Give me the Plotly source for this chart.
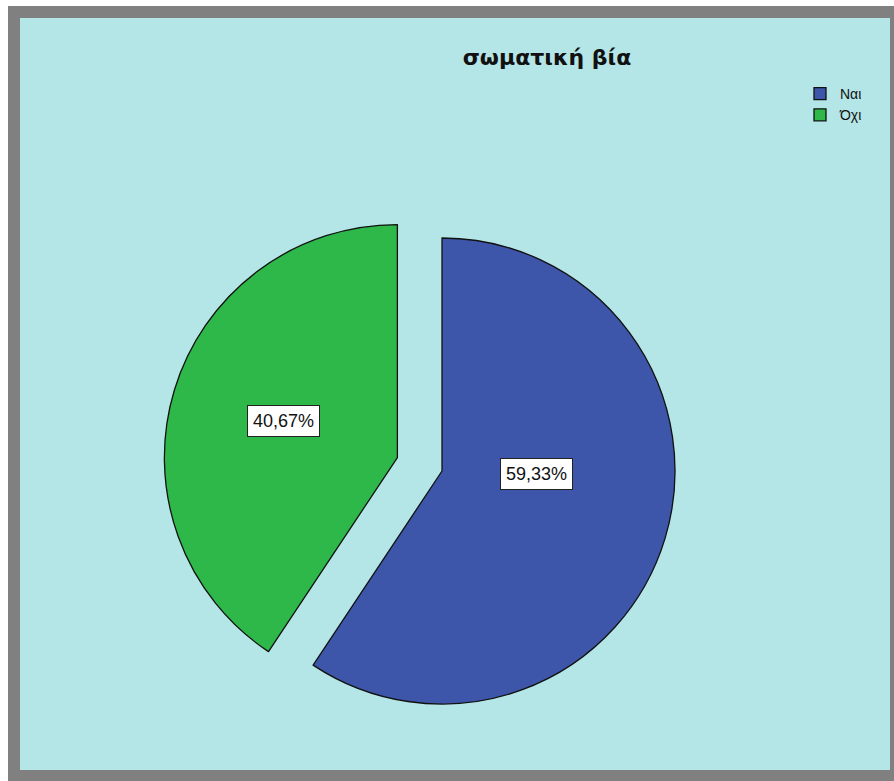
import plotly.graph_objects as go

# ---- data ----
labels = ["Ναι", "Όχι"]
values = [59.33, 40.67]
pulls = [0.0, 0.2]
colors = ["#3E56A9", "#2EB84A"]
title_text = "σωματική βία"

OX, OY = 8, 6  # page offset of the figure
W, H = 894 - OX, 781 - OY


def fx(px):
    return (px - OX) / W


def fy(py):
    return 1 - (py - OY) / H


# pie geometry (page pixels)
cx, cy, r = 442, 471, 233
half = r * (1 + max(pulls))
dom_x = [fx(cx - half), fx(cx + half)]
dom_y = [fy(cy + half), fy(cy - half)]


def fmt(v):
    return f"{v:.2f}".replace(".", ",") + "%"


fig = go.Figure(go.Pie(
    labels=labels,
    values=values,
    pull=pulls,
    sort=False,
    direction="clockwise",
    rotation=0,
    marker=dict(colors=colors, line=dict(color="#111111", width=1.3)),
    textinfo="none",
    hoverinfo="label+percent",
    domain=dict(x=dom_x, y=dom_y),
    showlegend=True,
))

# label boxes
label_pos = {"Ναι": (536, 474), "Όχι": (283, 421)}
annotations = []
for lab, val in zip(labels, values):
    px, py = label_pos[lab]
    annotations.append(dict(
        text=fmt(val), x=fx(px), y=fy(py), xref="paper", yref="paper",
        showarrow=False, xanchor="center", yanchor="middle",
        font=dict(family="Liberation Sans, Arial, sans-serif", size=18, color="#111111"),
        bgcolor="white", bordercolor="#222222", borderwidth=1, borderpad=5,
    ))

shapes = [
    dict(type="rect", xref="paper", yref="paper", x0=0, x1=1, y0=0, y1=1,
         fillcolor="#808080", line=dict(width=0), layer="below"),
    dict(type="rect", xref="paper", yref="paper", x0=fx(20), x1=fx(890), y0=fy(770), y1=fy(18),
         fillcolor="#B4E6E7", line=dict(width=0), layer="below"),
]

fig.update_layout(
    width=W, height=H,
    margin=dict(l=0, r=0, t=0, b=0),
    paper_bgcolor="white",
    plot_bgcolor="white",
    shapes=shapes,
    annotations=annotations,
    title=dict(text="<b>" + title_text + "</b>", x=fx(547), xanchor="center",
               y=fy(57), yanchor="middle",
               font=dict(family="DejaVu Sans, Verdana, sans-serif", size=22, color="#111111")),
    legend=dict(x=fx(800), y=fy(78), xanchor="left", yanchor="top",
                bgcolor="rgba(0,0,0,0)",
                font=dict(family="Liberation Sans, Arial, sans-serif", size=14, color="#111111"),
                itemwidth=30, tracegroupgap=0),
)

fig.write_html(
    "out.html",
    post_script="document.body.style.margin='6px 0 0 8px';document.body.style.overflow='hidden';",
)
